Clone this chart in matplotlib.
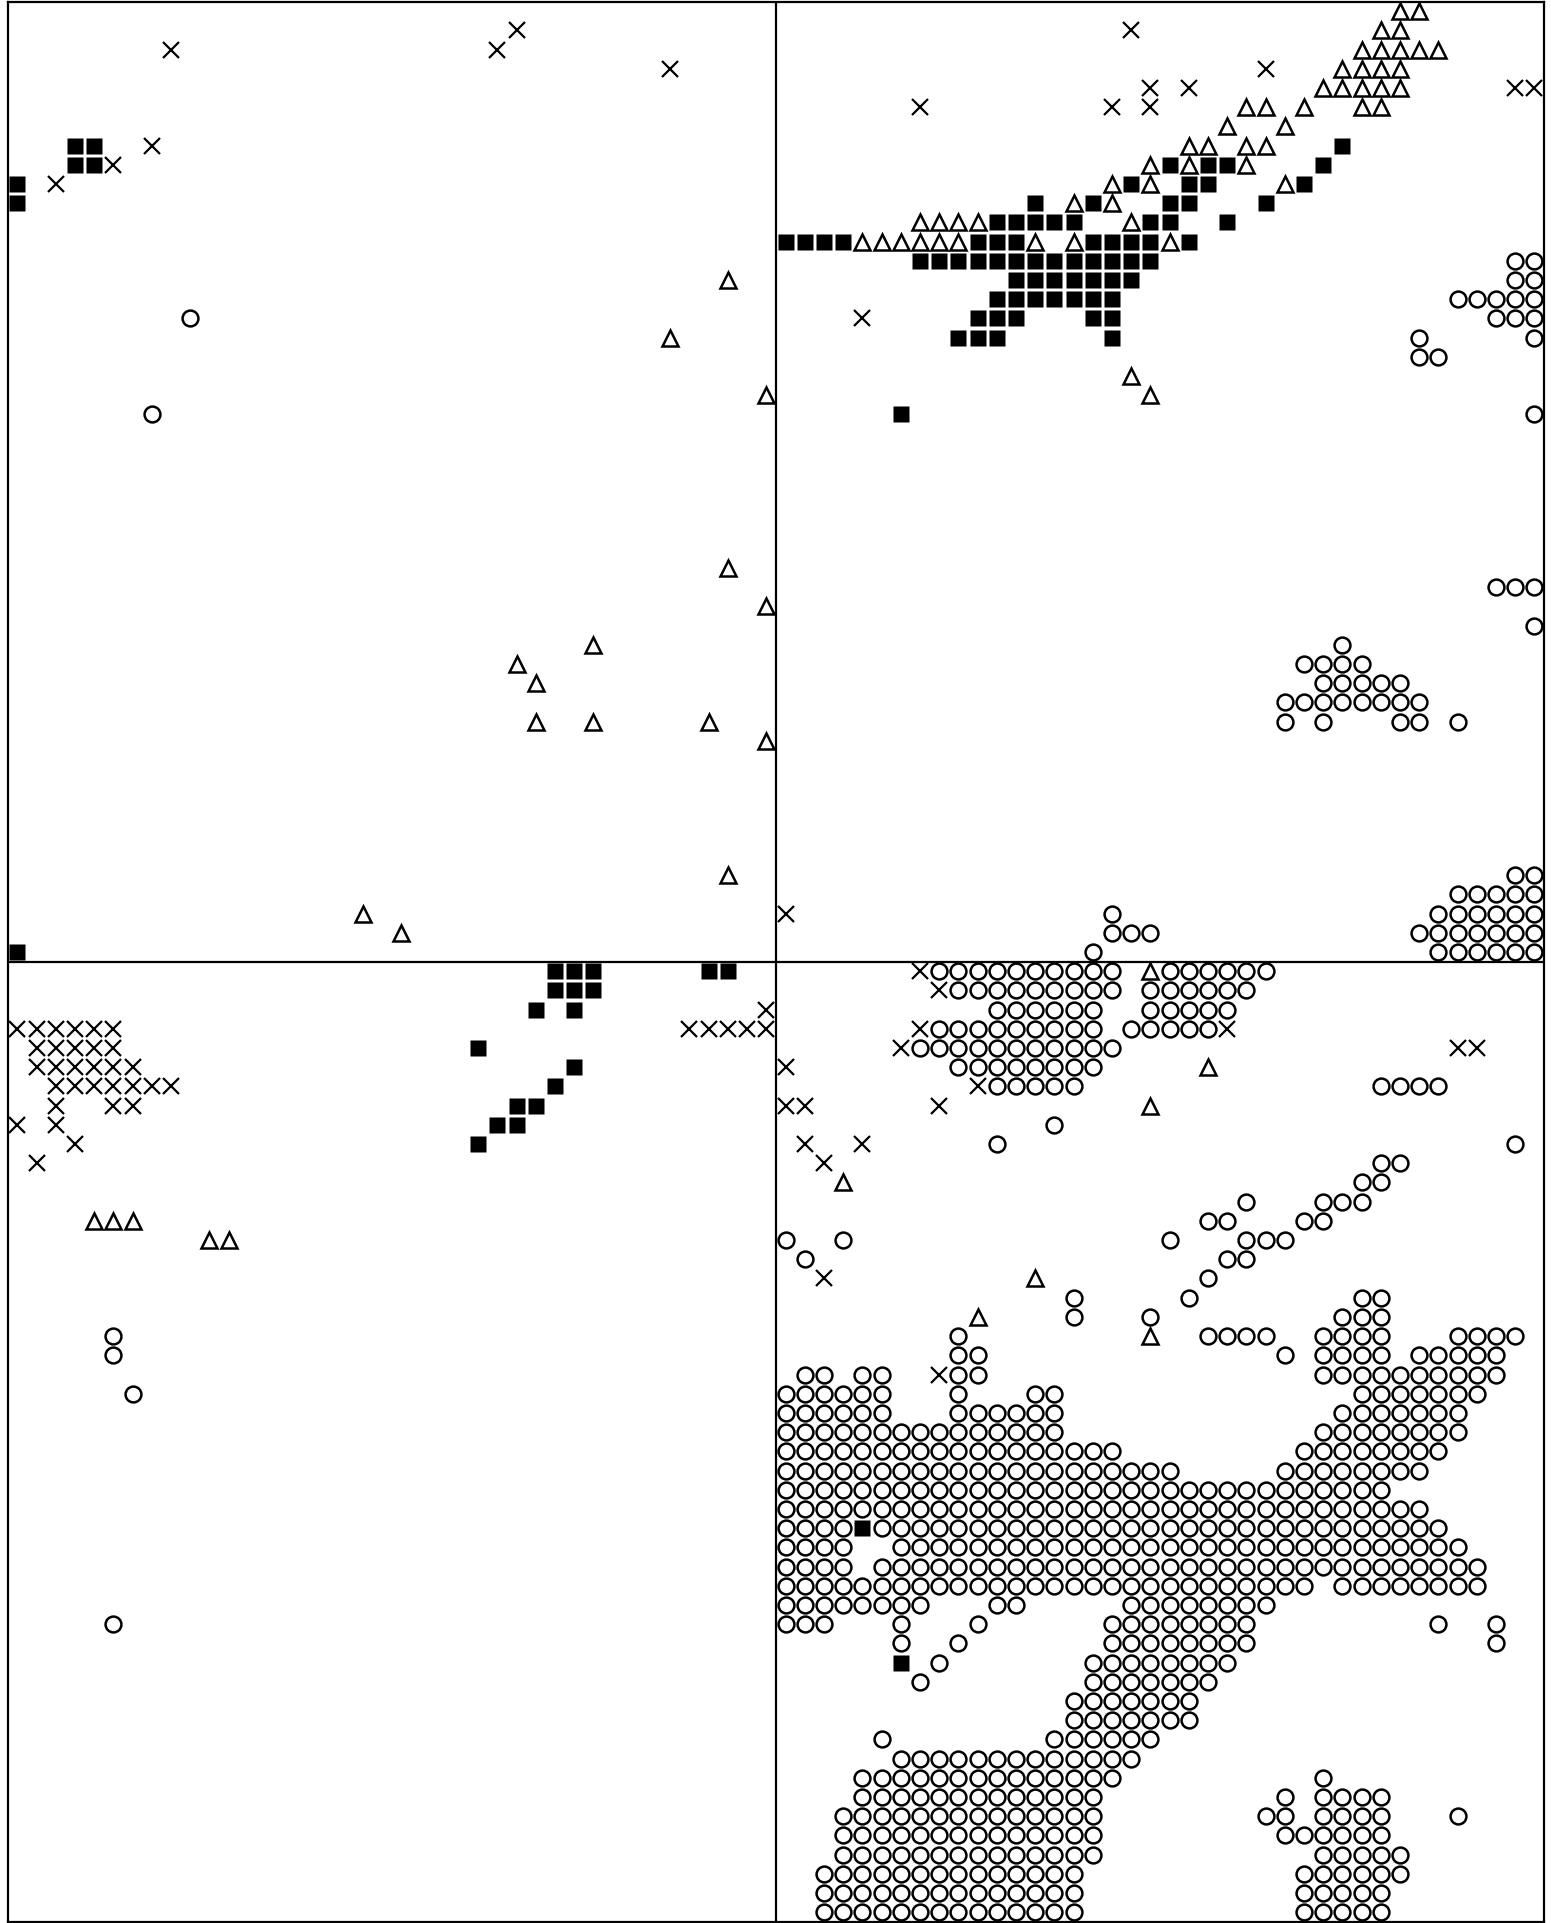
import matplotlib
matplotlib.use('Agg')
from matplotlib import pyplot as plt

N_COLS = 80
N_ROWS = 100

# class map, one entry per row: (row, "columns"), a-b means a run of columns
squares = [
    (7, "3-4 69"), (8, "3-4 60 62-63 68"), (9, "0 58 61-62 67"),
    (10, "0 53 56 60-61 65"), (11, "51-55 59-60 63"),
    (12, "40-43 50-52 56-59 61"), (13, "47-59"), (14, "52-58"), (15, "51-57"),
    (16, "50-52 56-57"), (17, "49-51 57"), (21, "46"), (49, "0"),
    (50, "28-30 36-37"), (51, "28-30"), (52, "27 29"), (54, "24"), (55, "29"),
    (56, "28"), (57, "26-27"), (58, "25-26"), (59, "24"), (79, "44"), (86, "46"),
]

triangles = [
    (0, "72-73"), (1, "71-72"), (2, "70-74"), (3, "69-72"), (4, "68-72"),
    (5, "64-65 67 70-71"), (6, "63 66"), (7, "61-62 64-65"), (8, "59 61 64"),
    (9, "57 59 66"), (10, "55 57"), (11, "47-50 58"), (12, "44-49 53 55 60"),
    (14, "37"), (17, "34"), (19, "58"), (20, "39 59"), (29, "37"), (31, "39"),
    (33, "30"), (34, "26"), (35, "27"), (37, "27 30 36"), (38, "39"), (45, "37"),
    (47, "18"), (48, "20"), (50, "59"), (55, "62"), (57, "59"), (61, "43"),
    (63, "4-6"), (64, "10-11"), (66, "53"), (68, "50"), (69, "59"),
]

crosses = [
    (1, "26 58"), (2, "8 25"), (3, "34 65"), (4, "59 61 78-79"), (5, "47 57 59"),
    (7, "7"), (8, "5"), (9, "2"), (16, "44"), (47, "40"), (50, "47"), (51, "48"),
    (52, "39"), (53, "0-5 35-39 47 63"), (54, "1-5 46 75-76"), (55, "1-6 40"),
    (56, "2-8 50"), (57, "2 5-6 40-41 48"), (58, "0 2"), (59, "3 41 44"),
    (60, "1 42"), (66, "42"), (71, "48"),
]

circles = [
    (13, "78-79"), (14, "78-79"), (15, "75-79"), (16, "9 77-79"), (17, "73 79"),
    (18, "73-74"), (21, "7 79"), (30, "77-79"), (32, "79"), (33, "69"),
    (34, "67-70"), (35, "68-72"), (36, "66-73"), (37, "66 68 72-73 75"),
    (45, "78-79"), (46, "75-79"), (47, "57 74-79"), (48, "57-59 73-79"),
    (49, "56 74-79"), (50, "48-57 60-65"), (51, "49-57 59-64"),
    (52, "51-56 59-63"), (53, "48-56 58-62"), (54, "47-57"), (55, "49-56"),
    (56, "51-55 71-74"), (58, "54"), (59, "51 78"), (60, "71-72"), (61, "70-71"),
    (62, "64 68-70"), (63, "62-63 67-68"), (64, "40 43 60 64-66"),
    (65, "41 63-64"), (66, "62"), (67, "55 61 70-71"), (68, "55 59 69-71"),
    (69, "5 49 62-65 68-71 75-78"), (70, "5 49-50 66 68-71 73-77"),
    (71, "41-42 44-45 49-50 68-77"), (72, "6 40-45 49 53-54 70-76"),
    (73, "40-45 49-54 69-75"), (74, "40-54 68-75"), (75, "40-57 67-74"),
    (76, "40-60 66-73"), (77, "40-71"), (78, "40-73"), (79, "40-43 45-74"),
    (80, "40-43 46-75"), (81, "40-43 45-76"), (82, "40-67 69-76"),
    (83, "40-47 51-52 58-65"), (84, "5 40-42 46 50 57-64 74 77"),
    (85, "46 49 57-64 77"), (86, "48 56-63"), (87, "47 56-62"), (88, "55-61"),
    (89, "55-61"), (90, "45 54-59"), (91, "46-58"), (92, "44-57 68"),
    (93, "44-56 66 68-71"), (94, "43-56 65-66 68-71 75"), (95, "43-56 66-71"),
    (96, "43-56 68-72"), (97, "42-55 67-72"), (98, "42-55 67-71"),
    (99, "42-55 67-71"),
]


def expand(entries):
    # turn the row runs into cell centres
    xs, ys = [], []
    for row, text in entries:
        for part in text.split():
            a, _, b = part.partition('-')
            for col in range(int(a), int(b or a) + 1):
                xs.append(col + 0.5)
                ys.append(row + 0.5)
    return xs, ys


W, H = 1551, 1923
left, right, top, bottom = 7.8, 1544.0, 1.5, 1921.8
fig = plt.figure(figsize=(W / 100, H / 100), dpi=100, facecolor='white')
ax = fig.add_axes([left / W, 1 - bottom / H, (right - left) / W, (bottom - top) / H])

x, y = expand(squares)
ax.plot(x, y, ls='none', marker='s', ms=12.1, mfc='black', mec='none')
x, y = expand(circles)
ax.plot(x, y, ls='none', marker='o', ms=11.4, mfc='none', mec='black', mew=1.8)
x, y = expand(triangles)
ax.plot(x, y, ls='none', marker='^', ms=11.9, mfc='none', mec='black', mew=1.8)
x, y = expand(crosses)
ax.plot(x, y, ls='none', marker='x', ms=11.8, mec='black', mew=1.6)

ax.axvline(N_COLS / 2, color='black', lw=1.6)
ax.axhline(N_ROWS / 2, color='black', lw=1.6)

ax.set_xlim(0, N_COLS)
ax.set_ylim(N_ROWS, 0)
ax.set_xticks([])
ax.set_yticks([])
for spine in ax.spines.values():
    spine.set_linewidth(1.6)

fig.savefig('out.png', dpi=100)
plt.close(fig)
